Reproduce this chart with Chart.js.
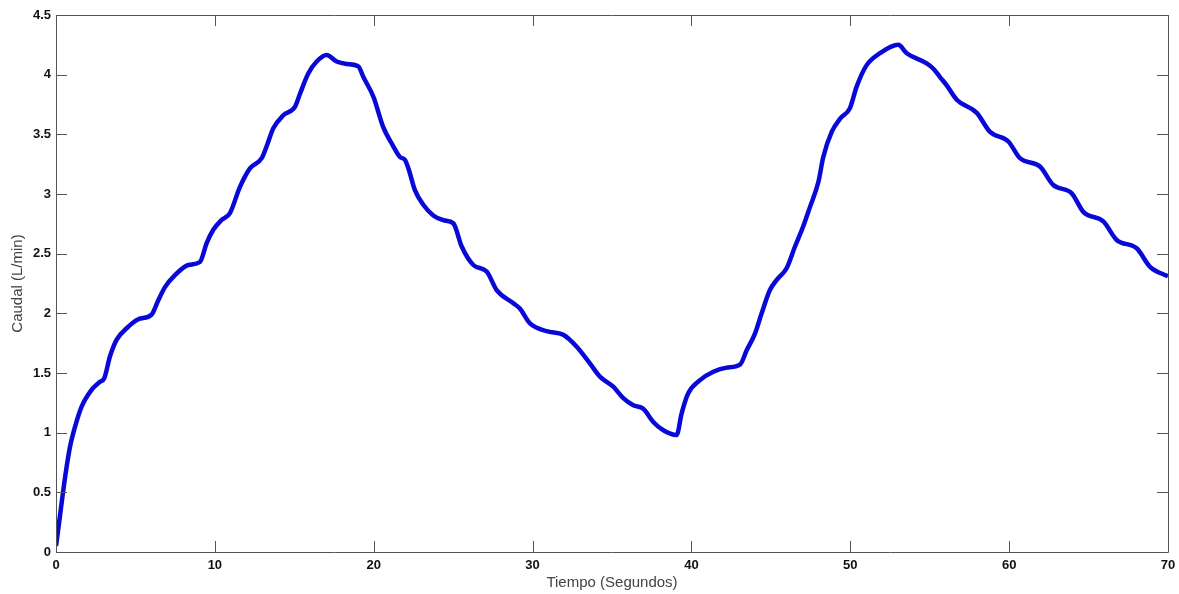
<!DOCTYPE html>
<html>
<head>
<meta charset="utf-8">
<script src="https://cdn.jsdelivr.net/npm/chart.js@4/dist/chart.umd.min.js"></script>
<style>
  html, body { margin: 0; padding: 0; background: #fff; }
  #wrap { width: 1179px; height: 594px; }
</style>
</head>
<body>
<div id="wrap"><canvas id="myChart" width="1179" height="594"></canvas></div>
<script>
'use strict';

// tiempo (s)
var tiempo = [
  0, 0.2, 0.46, 0.7, 0.88, 1.2, 1.62, 2.25, 2.7, 3.05,
  3.4, 3.82, 4.45, 5.18, 6.02, 6.44, 6.86, 7.49, 8.33, 9.06,
  9.49, 9.9, 10.4, 10.95, 11.58, 12.21, 12.95, 13.26, 13.68, 14.31,
  15.04, 15.36, 15.88, 16.41, 17.04, 17.67, 18.3, 19.03, 19.35, 19.98,
  20.6, 21.23, 21.65, 21.97, 22.18, 22.6, 23.12, 23.75, 24.4, 25.01,
  25.54, 26.27, 27.11, 27.74, 28.79, 29.2, 29.84, 30.89, 31.93, 32.78,
  33.61, 34.24, 35.08, 35.71, 36.34, 36.97, 37.6, 38.23, 39.07, 39.38,
  39.8, 40.54, 41.38, 42.22, 43.06, 43.48, 44.0, 44.42, 44.94, 45.37,
  46.0, 46.52, 47.04, 47.46, 47.99, 48.3, 48.83, 49.35, 49.98, 50.4,
  51.03, 51.87, 53.02, 53.55, 54.81, 55.23, 55.65, 56.07, 56.7, 57.96,
  58.8, 59.95, 60.68, 61.94, 62.78, 63.94, 64.67, 65.93, 66.77, 68.03,
  68.87, 70.0
];

// caudal (L/min)
var caudal = [
  0.05, 0.25, 0.52, 0.74, 0.88, 1.05, 1.22, 1.36, 1.42, 1.46,
  1.64, 1.78, 1.875, 1.95, 1.99, 2.11, 2.22, 2.32, 2.405, 2.43,
  2.59, 2.70, 2.78, 2.84, 3.06, 3.215, 3.30, 3.40, 3.55, 3.66,
  3.73, 3.84, 4.01, 4.11, 4.165, 4.11, 4.09, 4.07, 3.98, 3.815,
  3.56, 3.40, 3.31, 3.285, 3.215, 3.03, 2.91, 2.82, 2.78, 2.755,
  2.56, 2.405, 2.35, 2.195, 2.085, 2.04, 1.915, 1.85, 1.82, 1.72,
  1.58, 1.47, 1.385, 1.29, 1.23, 1.20, 1.09, 1.02, 0.98, 1.16,
  1.33, 1.44, 1.51, 1.545, 1.57, 1.69, 1.83, 2.0, 2.195, 2.28,
  2.38, 2.56, 2.73, 2.89, 3.10, 3.31, 3.52, 3.63, 3.72, 3.90,
  4.08, 4.18, 4.25, 4.18, 4.095, 4.05, 3.98, 3.91, 3.79, 3.68,
  3.52, 3.44, 3.30, 3.23, 3.075, 3.006, 2.85, 2.77, 2.615, 2.545,
  2.39, 2.31
];

var xTicks = [0, 10, 20, 30, 40, 50, 60, 70];
var yTicks = [0, 0.5, 1, 1.5, 2, 2.5, 3, 3.5, 4, 4.5];

var puntos = tiempo.map(function(t, i) { return { x: t, y: caudal[i] }; });

var axisColor = '#555555';
var tickFont = { family: 'Liberation Sans, Arial, sans-serif', size: 13, weight: 'bold' };
var titleFont = { family: 'Liberation Sans, Arial, sans-serif', size: 15 };

// box round the plot + inward ticks on all four sides
var matlabFrame = {
  id: 'matlabFrame',
  afterDraw: function(chart) {
    var c = chart.ctx;
    var a = chart.chartArea;
    var xs = chart.scales.x, ys = chart.scales.y;
    var len = 11;
    c.save();
    c.strokeStyle = axisColor;
    c.lineWidth = 1;
    c.beginPath();
    c.rect(Math.round(a.left) + 0.5, Math.round(a.top) + 0.5,
           Math.round(a.right - a.left), Math.round(a.bottom - a.top));
    xTicks.forEach(function(v) {
      var px = Math.round(xs.getPixelForValue(v)) + 0.5;
      c.moveTo(px, a.bottom); c.lineTo(px, a.bottom - len);
      c.moveTo(px, a.top); c.lineTo(px, a.top + len);
    });
    yTicks.forEach(function(v) {
      var py = Math.round(ys.getPixelForValue(v)) + 0.5;
      c.moveTo(a.left, py); c.lineTo(a.left + len, py);
      c.moveTo(a.right, py); c.lineTo(a.right - len, py);
    });
    c.stroke();
    c.restore();
  }
};

var ctx = document.getElementById('myChart').getContext('2d');

var chart = new Chart(ctx, {
  type: 'line',
  data: {
    datasets: [{
      label: 'Caudal',
      data: puntos,
      borderColor: '#0808d8',
      borderWidth: 4.5,
      pointRadius: 0,
      cubicInterpolationMode: 'monotone',
      fill: false
    }]
  },
  options: {
    responsive: false,
    animation: false,
    layout: { padding: { top: 15, right: 11, left: 0, bottom: 0 } },
    plugins: {
      legend: { display: false },
      tooltip: { enabled: false }
    },
    scales: {
      x: {
        type: 'linear',
        min: 0,
        max: 70,
        afterBuildTicks: function(s) { s.ticks = xTicks.map(function(v) { return { value: v }; }); },
        afterFit: function(s) { s.height = 42; s.paddingLeft = 0; s.paddingRight = 0; },
        ticks: { color: '#111', font: tickFont, padding: 6, maxRotation: 0,
                 callback: function(v) { return String(v); } },
        grid: { drawOnChartArea: false, drawTicks: false },
        border: { display: false },
        title: { display: true, text: 'Tiempo (Segundos)', color: '#444', font: titleFont, padding: { top: 0, bottom: 2 } }
      },
      y: {
        type: 'linear',
        min: 0,
        max: 4.5,
        afterBuildTicks: function(s) { s.ticks = yTicks.map(function(v) { return { value: v }; }); },
        afterFit: function(s) { s.width = 56; s.paddingTop = 0; s.paddingBottom = 0; },
        ticks: { color: '#111', font: tickFont, padding: 5,
                 callback: function(v) { return String(v); } },
        grid: { drawOnChartArea: false, drawTicks: false },
        border: { display: false },
        title: { display: true, text: 'Caudal (L/min)', color: '#444', font: titleFont, padding: { top: 9, bottom: 0 } }
      }
    }
  },
  plugins: [matlabFrame]
});
</script>
</body>
</html>
